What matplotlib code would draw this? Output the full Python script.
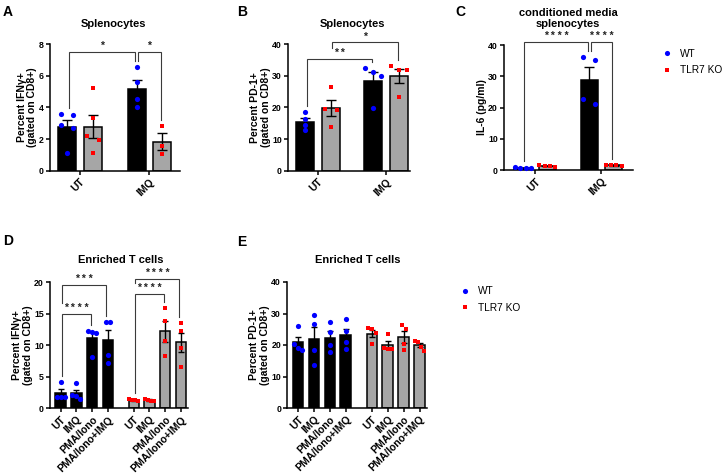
import matplotlib
matplotlib.use('Agg')
import matplotlib.pyplot as plt
from matplotlib.lines import Line2D
import numpy as np

plt.rcParams['font.family'] = ['Liberation Sans', 'DejaVu Sans']
plt.rcParams['font.weight'] = 'bold'

# ---- data ----
groups2 = ['UT', 'IMQ']
treatments = ['UT', 'IMQ', 'PMA/Iono', 'PMA/Iono+IMQ']

# A: Percent IFNy+ splenocytes
a_wt = [[3.6, 3.52, 2.87, 2.7, 1.14], [6.52, 5.57, 4.54, 4.01]]
a_ko = [[5.25, 3.35, 2.19, 1.94, 1.14], [2.85, 1.55, 1.05]]
# B: Percent PD-1+ splenocytes
b_wt = [[18.4, 16.4, 14.5, 12.7], [32.5, 31.1, 29.8, 19.7]]
b_ko = [[26.4, 19.4, 19.2, 13.9], [33.1, 31.9, 31.7, 23.2]]
# C: IL-6 in conditioned media
c_wt = [[0.5, 0.9, 0.6, 0.5], [36.3, 35.2, 22.7, 21.2]]
c_ko = [[1.5, 1.2, 1.0, 1.3], [1.7, 1.6, 1.5, 1.3]]
# D: Percent IFNy+ enriched T cells
d_wt = [[4.2, 1.85, 1.85, 1.85], [4.05, 2.1, 1.95, 1.4],
        [12.26, 12.1, 11.95, 8.16], [13.7, 13.7, 8.5, 7.1]]
d_ko = [[1.45, 1.35, 1.25, 1.1], [1.55, 1.35, 1.2, 1.1],
        [15.9, 13.85, 10.7, 8.26], [13.5, 12.2, 9.6, 6.6]]
# E: Percent PD-1+ enriched T cells
e_wt = [[25.9, 20.4, 19.2, 18.5], [29.4, 26.6, 18.3, 13.8],
        [27.3, 24.2, 20.1, 17.8], [28.1, 24.6, 21.0, 18.7]]
e_ko = [[25.4, 25.0, 23.8, 20.3], [23.6, 19.2, 18.8, 18.7],
        [26.3, 25.2, 20.2, 18.3], [21.4, 20.8, 19.5, 18.1]]

# significance: (bar index from, bar index to, bracket height, label)
a_sig = [(0, 2, 7.49, '*'), (2, 3, 7.49, '*')]
b_sig = [(0, 2, 35.25, '**'), (1, 3, 40.5, '*')]
c_sig = [(0, 2, 41.0, '****'), (2, 3, 41.0, '****')]
d_sig = [(0, 2, 15.0, '****'), (0, 3, 19.5, '***'),
         (4, 6, 18.05, '****'), (4, 7, 20.4, '****')]

W, H = 724, 476
BLUE = '#0000ff'
RED = '#ff0000'
GRAY = '#a6a6a6'
LINE = '#3a3a3a'

fig = plt.figure(figsize=(W / 100, H / 100), dpi=100)


def add_ax(l, t, r, b):
    return fig.add_axes([l / W, 1 - b / H, (r - l) / W, (b - t) / H])


def px_scale(ax):
    pos = ax.get_position()
    x0, x1 = ax.get_xlim()
    y0, y1 = ax.get_ylim()
    return pos.width * W / (x1 - x0), pos.height * H / (y1 - y0)


def swarm_x(ax, x0, vals, step_px, max_px):
    # spread points sideways only where they would overlap
    ppx, ppy = px_scale(ax)
    vals = np.asarray(vals)
    order = np.argsort(-vals, kind='stable')
    clusters = []
    cur = [order[0]]
    for a, b in zip(order[:-1], order[1:]):
        if (vals[a] - vals[b]) * ppy < 5:
            cur.append(b)
        else:
            clusters.append(cur)
            cur = [b]
    clusters.append(cur)
    xs = np.zeros(len(vals))
    for c in clusters:
        m = len(c)
        span = min(step_px * (m - 1), max_px)
        offs = np.linspace(-span / 2, span / 2, m) if m > 1 else [0.0]
        for idx, o in zip(c, offs):
            xs[idx] = x0 + o / ppx
    return xs


def draw_bar(ax, x, vals, wt, width, capsize, step_px, max_px):
    m = np.mean(vals)
    sem = np.std(vals, ddof=1) / np.sqrt(len(vals))
    ax.bar(x, m, width, color='black' if wt else GRAY, edgecolor='black',
           linewidth=1.1, zorder=2)
    ax.errorbar(x, m, yerr=sem, color='black', capsize=capsize, elinewidth=1,
                capthick=1, zorder=3)
    xs = swarm_x(ax, x, vals, step_px, max_px)
    if wt:
        ax.scatter(xs, vals, s=14, marker='o', color=BLUE, linewidths=0,
                   zorder=4, clip_on=False)
    else:
        ax.scatter(xs, vals, s=12, marker='s', color=RED, linewidths=0,
                   zorder=4, clip_on=False)


def style_ax(ax, ylim, ystep, xlim, xticks, xlabels, ylabel):
    ax.set_xlim(*xlim)
    ax.set_ylim(0, ylim)
    ax.set_yticks(np.arange(0, ylim + ystep / 2, ystep))
    ax.set_xticks(xticks)
    ax.set_xticklabels(xlabels, rotation=45, ha='right', rotation_mode='anchor')
    for s in ['top', 'right']:
        ax.spines[s].set_visible(False)
    for s in ['left', 'bottom']:
        ax.spines[s].set_linewidth(1.1)
    ax.tick_params(direction='out', length=3, width=1.1, pad=1.5)
    ax.tick_params(axis='x', labelsize=7.5)
    ax.tick_params(axis='y', labelsize=6.3)
    ax.set_ylabel(ylabel, fontsize=7.5, fontweight='bold', labelpad=1,
                  linespacing=1.1)


def brackets(ax, xs, data, sigs, pad_px=6, clear_px=11):
    ppx, ppy = px_scale(ax)
    for i, j, lev, lab in sigs:
        ends = []
        for k in (i, j):
            end = max(data[k]) + pad_px / ppy
            for i2, j2, lev2, _ in sigs:
                if lev2 < lev and xs[i2] <= xs[k] <= xs[j2]:
                    end = max(end, lev2 + clear_px / ppy)
            ends.append(end)
        x1 = xs[i] + 1.5 / ppx
        x2 = xs[j] - 1.5 / ppx
        ax.plot([x1, x1, x2, x2], [ends[0], lev, lev, ends[1]], color=LINE,
                lw=0.8, clip_on=False, zorder=5, solid_joinstyle='miter')
        ax.text((x1 + x2) / 2, lev + 1 / ppy, ' '.join(lab), ha='center',
                va='bottom', fontsize=7.5, color='#222222', clip_on=False)


def two_group_panel(ax, wt, ko, ylim, ystep, xlim, ylabel, sigs, off):
    style_ax(ax, ylim, ystep, xlim, [0, 1], groups2, ylabel)
    xs, data = [], []
    for g in range(len(wt)):
        xs += [g - off, g + off]
        data += [wt[g], ko[g]]
    for g in range(len(wt)):
        draw_bar(ax, g - off, wt[g], True, 0.26, 3.5, 12, 16)
        draw_bar(ax, g + off, ko[g], False, 0.26, 3.5, 12, 16)
    brackets(ax, xs, data, sigs)


def four_group_panel(ax, wt, ko, ylim, ystep, ylabel, sigs):
    gap = 4.65
    xs = list(np.arange(4)) + list(np.arange(4) + gap)
    style_ax(ax, ylim, ystep, (-0.68, 8.1), xs, treatments * 2, ylabel)
    data = wt + ko
    for k, x in enumerate(xs):
        draw_bar(ax, x, data[k], k < 4, 0.67, 2.4, 4, 9)
    if sigs:
        brackets(ax, xs, data, sigs)


ylab_ifn = 'Percent IFN\u03b3+\n(gated on CD8+)'
ylab_pd1 = 'Percent PD-1+\n(gated on CD8+)'

ax_a = add_ax(50, 44, 180, 170.7)
two_group_panel(ax_a, a_wt, a_ko, 8, 2, (-0.43, 1.44), ylab_ifn, a_sig, 0.183)

ax_b = add_ax(288, 44, 410, 170.7)
two_group_panel(ax_b, b_wt, b_ko, 40, 10, (-0.44, 1.35), ylab_pd1, b_sig, 0.19)

ax_c = add_ax(504, 45, 632.5, 170)
two_group_panel(ax_c, c_wt, c_ko, 40, 10, (-0.47, 1.47), 'IL-6 (pg/ml)', c_sig, 0.184)

ax_d = add_ax(50, 282, 188, 408.3)
four_group_panel(ax_d, d_wt, d_ko, 20, 5, ylab_ifn, d_sig)

ax_e = add_ax(287.3, 282, 426.7, 408)
four_group_panel(ax_e, e_wt, e_ko, 40, 10, ylab_pd1, [])

# titles and panel letters
titles = [(113, 24, 'Splenocytes'), (352, 24, 'Splenocytes'),
          (568, 18.5, 'conditioned media\nsplenocytes'),
          (121, 260, 'Enriched T cells'), (358, 260, 'Enriched T cells')]
for x, y, t in titles:
    fig.text(x / W, 1 - y / H, t, ha='center', va='center', fontsize=8,
             fontweight='bold', linespacing=1.05)

letters = [(3, 12, 'A'), (237, 12, 'B'), (455, 12, 'C'), (3, 241, 'D'), (237, 242, 'E')]
for x, y, t in letters:
    fig.text(x / W, 1 - y / H, t, ha='left', va='center', fontsize=10,
             fontweight='bold')

handles = [Line2D([], [], ls='none', marker='o', ms=3.7, color=BLUE, mew=0),
           Line2D([], [], ls='none', marker='s', ms=3.4, color=RED, mew=0)]
for lx, ly in [(657, 43.5), (455, 281)]:
    fig.legend(handles, ['WT', 'TLR7 KO'], loc='upper left',
               bbox_to_anchor=(lx / W, 1 - ly / H), frameon=False,
               borderpad=0, handlelength=1.0, handletextpad=0.8,
               labelspacing=0.65, prop={'weight': 'normal', 'size': 7.3})

fig.savefig('out.png', dpi=100)
